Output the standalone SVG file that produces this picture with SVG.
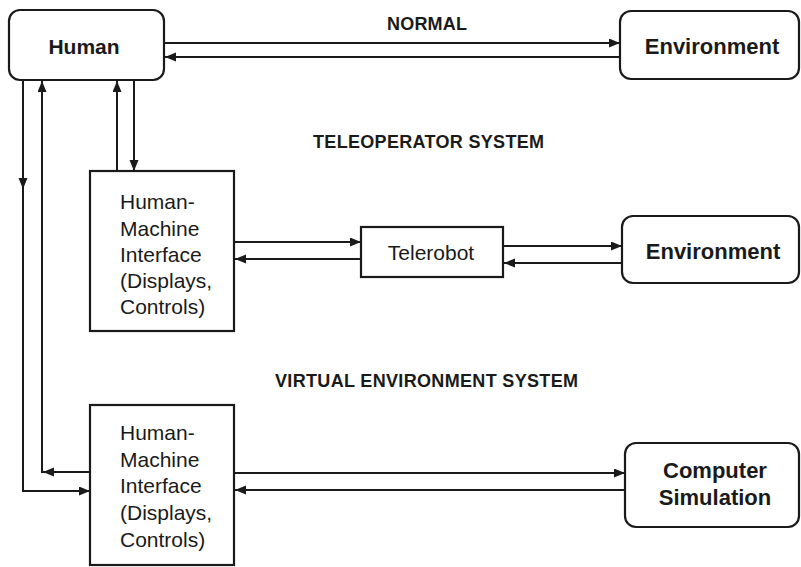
<svg xmlns="http://www.w3.org/2000/svg" width="801" height="567" viewBox="0 0 801 567">
  <style>
    .box { fill: #ffffff; stroke: #1a1a1a; stroke-width: 2.2; }
    .wire { fill: none; stroke: #1a1a1a; stroke-width: 2; }
    .arrow { fill: none; stroke: #1a1a1a; stroke-width: 2; marker-end: url(#head); }
    .bold { font-family: "Liberation Sans", Arial, sans-serif; font-weight: bold; fill: #1a1a1a; }
    .plain { font-family: "Liberation Sans", Arial, sans-serif; fill: #1a1a1a; font-size: 21px; }
    .title { font-size: 18px; }
    .name { font-size: 22px; text-anchor: middle; }
  </style>
  <defs>
    <marker id="head" markerUnits="userSpaceOnUse" markerWidth="12" markerHeight="10" refX="11" refY="4.5" orient="auto">
      <path d="M0,0 L11,4.5 L0,9 z" fill="#1a1a1a"/>
    </marker>
  </defs>

  <rect width="801" height="567" fill="#ffffff"/>

  <!-- section titles -->
  <text class="bold title" x="387" y="30" textLength="80">NORMAL</text>
  <text class="bold title" x="313" y="148" textLength="231">TELEOPERATOR SYSTEM</text>
  <text class="bold title" x="275" y="387" textLength="303">VIRTUAL ENVIRONMENT SYSTEM</text>

  <!-- nodes -->
  <g id="human">
    <rect class="box" x="9" y="10" width="155" height="70" rx="11"/>
    <text class="bold" x="84" y="54" font-size="21" text-anchor="middle">Human</text>
  </g>

  <g id="environment-normal">
    <rect class="box" x="620" y="11" width="179" height="68" rx="11"/>
    <text class="bold name" x="712" y="54">Environment</text>
  </g>

  <g id="hmi-teleoperator">
    <rect class="box" x="90" y="171" width="144" height="160"/>
    <text class="plain" x="120" y="209">Human-</text>
    <text class="plain" x="120" y="236">Machine</text>
    <text class="plain" x="120" y="262">Interface</text>
    <text class="plain" x="120" y="288">(Displays,</text>
    <text class="plain" x="120" y="314">Controls)</text>
  </g>

  <g id="telerobot">
    <rect class="box" x="361" y="227" width="142" height="50"/>
    <text class="plain" x="431" y="260" text-anchor="middle">Telerobot</text>
  </g>

  <g id="environment-teleoperator">
    <rect class="box" x="622" y="216" width="177" height="67" rx="11"/>
    <text class="bold name" x="713" y="259">Environment</text>
  </g>

  <g id="hmi-virtual">
    <rect class="box" x="90" y="405" width="144" height="160"/>
    <text class="plain" x="120" y="440">Human-</text>
    <text class="plain" x="120" y="467">Machine</text>
    <text class="plain" x="120" y="493">Interface</text>
    <text class="plain" x="120" y="520">(Displays,</text>
    <text class="plain" x="120" y="547">Controls)</text>
  </g>

  <g id="computer-simulation">
    <rect class="box" x="625" y="443" width="174" height="84" rx="11"/>
    <text class="bold name" x="715" y="478">Computer</text>
    <text class="bold name" x="715" y="505">Simulation</text>
  </g>

  <!-- connectors -->
  <g id="connectors">
    <!-- normal loop -->
    <path class="arrow" d="M164,43 H620"/>
    <path class="arrow" d="M620,57 H165"/>

    <!-- human to teleoperator interface -->
    <path class="arrow" d="M134,80 V171"/>
    <path class="arrow" d="M117,171 V81"/>

    <!-- teleoperator interface to telerobot -->
    <path class="arrow" d="M234,242 H361"/>
    <path class="arrow" d="M361,259 H235"/>

    <!-- telerobot to environment -->
    <path class="arrow" d="M503,246 H622"/>
    <path class="arrow" d="M622,263 H504"/>

    <!-- human to virtual interface -->
    <path class="arrow" d="M23,80 V189"/>
    <path class="arrow" d="M23,187 V491 H90"/>

    <!-- virtual interface back to human -->
    <path class="arrow" d="M90,472 H43"/>
    <path class="arrow" d="M42,473 V81"/>

    <!-- virtual interface to computer simulation -->
    <path class="arrow" d="M234,473 H625"/>
    <path class="arrow" d="M625,490 H235"/>
  </g>
</svg>
